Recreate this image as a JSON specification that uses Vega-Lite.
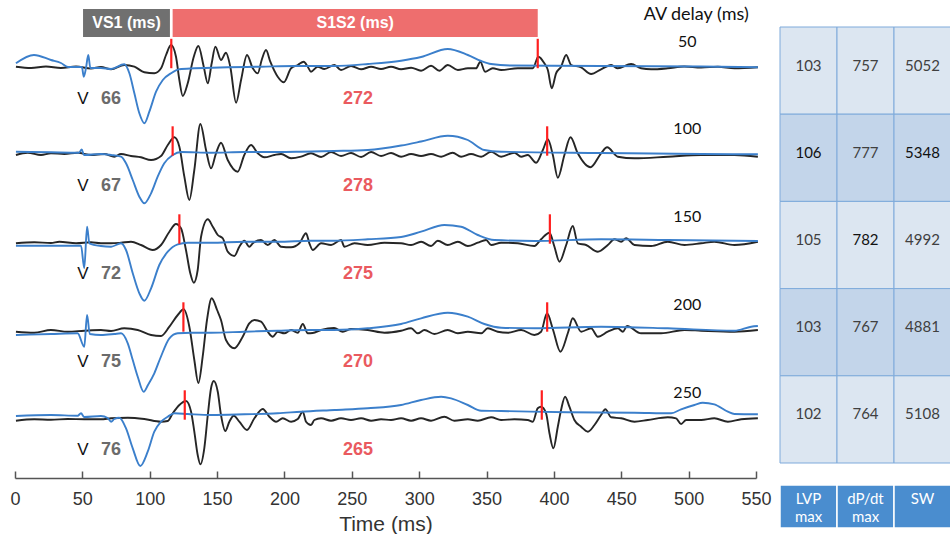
{
  "$schema": "https://vega.github.io/schema/vega-lite/v6.json",
  "background": "white",
  "padding": {"left": 9, "top": 0, "right": 0, "bottom": 0},
  "bounds": "flush",
  "spacing": 24,
  "config": {
    "view": {"stroke": null},
    "font": "Liberation Sans",
    "axisX": {"grid": false, "domainColor": "#555555", "domainWidth": 1.5, "tickColor": "#555555", "tickWidth": 1.5, "tickSize": -7,
      "labelPadding": 19, "labelFont": "Liberation Sans", "labelFontSize": 18, "labelColor": "#333333",
      "labelOverlap": false, "labelFlush": false,
      "titleFont": "Liberation Sans", "titleFontSize": 21, "titleFontWeight": "normal", "titleColor": "#333333", "titlePadding": 5}
  },
  "datasets": {
    "signals": [
      {"d":50,"k":"ECG","t":0.7,"v":414.7},{"d":50,"k":"ECG","t":14.1,"v":423},{"d":50,"k":"ECG","t":26.7,"v":418},{"d":50,"k":"ECG","t":34.1,"v":415},{"d":50,"k":"ECG","t":39.3,"v":411},{"d":50,"k":"ECG","t":49.7,"v":411},{"d":50,"k":"ECG","t":51.0,"v":401.3},{"d":50,"k":"ECG","t":52.7,"v":410},{"d":50,"k":"ECG","t":54.4,"v":423},{"d":50,"k":"ECG","t":55.9,"v":410},{"d":50,"k":"ECG","t":63.8,"v":410},{"d":50,"k":"ECG","t":71.3,"v":409},{"d":50,"k":"ECG","t":81.1,"v":413.7},{"d":50,"k":"ECG","t":84.9,"v":404.7},{"d":50,"k":"ECG","t":88.6,"v":384.7},{"d":50,"k":"ECG","t":92.3,"v":364.7},{"d":50,"k":"ECG","t":96.0,"v":354.7},{"d":50,"k":"ECG","t":99.7,"v":366.3},{"d":50,"k":"ECG","t":104.7,"v":386.3},{"d":50,"k":"ECG","t":109.7,"v":398},{"d":50,"k":"ECG","t":115.8,"v":404.7},{"d":50,"k":"ECG","t":122.0,"v":408.7},{"d":50,"k":"ECG","t":133.1,"v":409.7},{"d":50,"k":"ECG","t":157.9,"v":410.7},{"d":50,"k":"ECG","t":182.6,"v":411.3},{"d":50,"k":"ECG","t":207.4,"v":412},{"d":50,"k":"ECG","t":236.8,"v":412},{"d":50,"k":"ECG","t":262.1,"v":414},{"d":50,"k":"ECG","t":286.6,"v":417.3},{"d":50,"k":"ECG","t":301.4,"v":421},{"d":50,"k":"ECG","t":321.2,"v":429},{"d":50,"k":"ECG","t":336.1,"v":423},{"d":50,"k":"ECG","t":346.0,"v":417},{"d":50,"k":"ECG","t":353.4,"v":414},{"d":50,"k":"ECG","t":368.2,"v":412.5},{"d":50,"k":"ECG","t":435.0,"v":412},{"d":50,"k":"ECG","t":509.3,"v":411.5},{"d":50,"k":"ECG","t":551.4,"v":410.7},

      {"d":50,"k":"PCG","t":0.7,"v":411.3},{"d":50,"k":"PCG","t":11.9,"v":410},{"d":50,"k":"PCG","t":23.0,"v":411.5},{"d":50,"k":"PCG","t":34.1,"v":410},{"d":50,"k":"PCG","t":45.3,"v":411.5},{"d":50,"k":"PCG","t":56.4,"v":409.5},{"d":50,"k":"PCG","t":63.8,"v":411},{"d":50,"k":"PCG","t":71.3,"v":408.7},{"d":50,"k":"PCG","t":81.1,"v":413},{"d":50,"k":"PCG","t":88.6,"v":411.3},{"d":50,"k":"PCG","t":96.0,"v":405.7},{"d":50,"k":"PCG","t":103.4,"v":404.7},{"d":50,"k":"PCG","t":108.4,"v":409.7},{"d":50,"k":"PCG","t":112.1,"v":423},{"d":50,"k":"PCG","t":115.8,"v":433},{"d":50,"k":"PCG","t":119.5,"v":421.3},{"d":50,"k":"PCG","t":122.0,"v":398},{"d":50,"k":"PCG","t":124.5,"v":382},{"d":50,"k":"PCG","t":128.2,"v":394.7},{"d":50,"k":"PCG","t":132.7,"v":421.3},{"d":50,"k":"PCG","t":136.1,"v":432},{"d":50,"k":"PCG","t":140.1,"v":411.3},{"d":50,"k":"PCG","t":143.1,"v":394.7},{"d":50,"k":"PCG","t":146.0,"v":414.7},{"d":50,"k":"PCG","t":148.7,"v":431.3},{"d":50,"k":"PCG","t":152.9,"v":418},{"d":50,"k":"PCG","t":156.6,"v":425.3},{"d":50,"k":"PCG","t":159.8,"v":411.3},{"d":50,"k":"PCG","t":164.1,"v":375.3},{"d":50,"k":"PCG","t":167.8,"v":398},{"d":50,"k":"PCG","t":172.2,"v":423},{"d":50,"k":"PCG","t":176.5,"v":409.7},{"d":50,"k":"PCG","t":180.2,"v":404.7},{"d":50,"k":"PCG","t":183.1,"v":418},{"d":50,"k":"PCG","t":186.3,"v":428},{"d":50,"k":"PCG","t":189.5,"v":416.3},{"d":50,"k":"PCG","t":195.0,"v":401.3},{"d":50,"k":"PCG","t":199.5,"v":395.7},{"d":50,"k":"PCG","t":204.9,"v":409.7},{"d":50,"k":"PCG","t":209.9,"v":413},{"d":50,"k":"PCG","t":214.3,"v":416.3},{"d":50,"k":"PCG","t":217.3,"v":411.3},{"d":50,"k":"PCG","t":219.7,"v":406.3},{"d":50,"k":"PCG","t":224.7,"v":411.3},{"d":50,"k":"PCG","t":229.6,"v":409},{"d":50,"k":"PCG","t":237.1,"v":413},{"d":50,"k":"PCG","t":242.0,"v":408},{"d":50,"k":"PCG","t":249.4,"v":412},{"d":50,"k":"PCG","t":256.9,"v":408.7},{"d":50,"k":"PCG","t":264.3,"v":411.3},{"d":50,"k":"PCG","t":271.7,"v":409},{"d":50,"k":"PCG","t":279.1,"v":411.3},{"d":50,"k":"PCG","t":286.6,"v":408.7},{"d":50,"k":"PCG","t":294.0,"v":410.3},{"d":50,"k":"PCG","t":301.4,"v":407.3},{"d":50,"k":"PCG","t":308.8,"v":412.3},{"d":50,"k":"PCG","t":315.0,"v":407.3},{"d":50,"k":"PCG","t":321.2,"v":413},{"d":50,"k":"PCG","t":328.7,"v":408},{"d":50,"k":"PCG","t":336.1,"v":409.7},{"d":50,"k":"PCG","t":342.2,"v":409.7},{"d":50,"k":"PCG","t":345.4,"v":416.3},{"d":50,"k":"PCG","t":348.9,"v":406.3},{"d":50,"k":"PCG","t":354.6,"v":409.7},{"d":50,"k":"PCG","t":360.8,"v":408},{"d":50,"k":"PCG","t":373.2,"v":409.7},{"d":50,"k":"PCG","t":384.3,"v":409.7},{"d":50,"k":"PCG","t":388.5,"v":421.3},{"d":50,"k":"PCG","t":392.9,"v":414.7},{"d":50,"k":"PCG","t":395.5,"v":408},{"d":50,"k":"PCG","t":398.4,"v":389.7},{"d":50,"k":"PCG","t":401.6,"v":404.7},{"d":50,"k":"PCG","t":405.3,"v":411.3},{"d":50,"k":"PCG","t":409.1,"v":423},{"d":50,"k":"PCG","t":412.8,"v":413},{"d":50,"k":"PCG","t":420.2,"v":410.7},{"d":50,"k":"PCG","t":427.6,"v":404},{"d":50,"k":"PCG","t":435.0,"v":408.7},{"d":50,"k":"PCG","t":442.5,"v":413},{"d":50,"k":"PCG","t":447.4,"v":409.7},{"d":50,"k":"PCG","t":457.3,"v":414},{"d":50,"k":"PCG","t":464.7,"v":409.7},{"d":50,"k":"PCG","t":472.2,"v":408.7},{"d":50,"k":"PCG","t":484.5,"v":409.7},{"d":50,"k":"PCG","t":496.7,"v":411.5},{"d":50,"k":"PCG","t":509.3,"v":410.5},{"d":50,"k":"PCG","t":521.7,"v":411.3},{"d":50,"k":"PCG","t":534.0,"v":409.7},{"d":50,"k":"PCG","t":551.4,"v":410.7},

      {"d":100,"k":"ECG","t":0.7,"v":326.3},{"d":100,"k":"ECG","t":26.7,"v":325.7},{"d":100,"k":"ECG","t":47.5,"v":325.3},{"d":100,"k":"ECG","t":49.5,"v":328.5},{"d":100,"k":"ECG","t":51.2,"v":323},{"d":100,"k":"ECG","t":63.8,"v":324},{"d":100,"k":"ECG","t":71.3,"v":323},{"d":100,"k":"ECG","t":78.7,"v":321.3},{"d":100,"k":"ECG","t":82.4,"v":314.7},{"d":100,"k":"ECG","t":87.4,"v":298},{"d":100,"k":"ECG","t":92.3,"v":281.3},{"d":100,"k":"ECG","t":96.0,"v":274.7},{"d":100,"k":"ECG","t":101.0,"v":284.7},{"d":100,"k":"ECG","t":105.9,"v":301.3},{"d":100,"k":"ECG","t":110.8,"v":314.7},{"d":100,"k":"ECG","t":117.1,"v":323},{"d":100,"k":"ECG","t":123.2,"v":326},{"d":100,"k":"ECG","t":145.5,"v":325.3},{"d":100,"k":"ECG","t":170.2,"v":326},{"d":100,"k":"ECG","t":195.0,"v":326},{"d":100,"k":"ECG","t":212.3,"v":326.3},{"d":100,"k":"ECG","t":236.8,"v":327},{"d":100,"k":"ECG","t":261.8,"v":328},{"d":100,"k":"ECG","t":286.6,"v":332.5},{"d":100,"k":"ECG","t":301.4,"v":336.5},{"d":100,"k":"ECG","t":321.2,"v":342.3},{"d":100,"k":"ECG","t":336.1,"v":338},{"d":100,"k":"ECG","t":348.4,"v":328},{"d":100,"k":"ECG","t":360.8,"v":326.3},{"d":100,"k":"ECG","t":435.0,"v":325},{"d":100,"k":"ECG","t":509.3,"v":324},{"d":100,"k":"ECG","t":551.4,"v":323.7},

      {"d":100,"k":"PCG","t":0.7,"v":323},{"d":100,"k":"PCG","t":9.4,"v":325.3},{"d":100,"k":"PCG","t":19.3,"v":323},{"d":100,"k":"PCG","t":26.7,"v":324.7},{"d":100,"k":"PCG","t":36.6,"v":324},{"d":100,"k":"PCG","t":46.5,"v":325.3},{"d":100,"k":"PCG","t":56.4,"v":323},{"d":100,"k":"PCG","t":66.3,"v":324},{"d":100,"k":"PCG","t":73.7,"v":321.3},{"d":100,"k":"PCG","t":78.7,"v":324},{"d":100,"k":"PCG","t":86.1,"v":322},{"d":100,"k":"PCG","t":93.5,"v":320.7},{"d":100,"k":"PCG","t":101.0,"v":318},{"d":100,"k":"PCG","t":108.4,"v":322},{"d":100,"k":"PCG","t":113.4,"v":333},{"d":100,"k":"PCG","t":118.3,"v":340.7},{"d":100,"k":"PCG","t":122.0,"v":331.3},{"d":100,"k":"PCG","t":125.7,"v":301.3},{"d":100,"k":"PCG","t":129.4,"v":278},{"d":100,"k":"PCG","t":133.1,"v":308},{"d":100,"k":"PCG","t":137.6,"v":354},{"d":100,"k":"PCG","t":141.8,"v":328},{"d":100,"k":"PCG","t":145.5,"v":309.7},{"d":100,"k":"PCG","t":149.2,"v":324.7},{"d":100,"k":"PCG","t":152.9,"v":335.3},{"d":100,"k":"PCG","t":157.9,"v":318},{"d":100,"k":"PCG","t":165.3,"v":306.3},{"d":100,"k":"PCG","t":170.2,"v":323},{"d":100,"k":"PCG","t":175.2,"v":333},{"d":100,"k":"PCG","t":180.2,"v":324.7},{"d":100,"k":"PCG","t":185.1,"v":320.7},{"d":100,"k":"PCG","t":192.5,"v":323},{"d":100,"k":"PCG","t":197.5,"v":324},{"d":100,"k":"PCG","t":204.9,"v":319.7},{"d":100,"k":"PCG","t":212.3,"v":321.3},{"d":100,"k":"PCG","t":219.7,"v":324.7},{"d":100,"k":"PCG","t":227.2,"v":321},{"d":100,"k":"PCG","t":234.6,"v":326},{"d":100,"k":"PCG","t":242.0,"v":322},{"d":100,"k":"PCG","t":249.4,"v":325},{"d":100,"k":"PCG","t":256.9,"v":321},{"d":100,"k":"PCG","t":264.3,"v":326},{"d":100,"k":"PCG","t":271.7,"v":322},{"d":100,"k":"PCG","t":279.1,"v":325},{"d":100,"k":"PCG","t":286.6,"v":321.3},{"d":100,"k":"PCG","t":294.0,"v":324},{"d":100,"k":"PCG","t":301.4,"v":322},{"d":100,"k":"PCG","t":308.8,"v":324},{"d":100,"k":"PCG","t":316.3,"v":321.3},{"d":100,"k":"PCG","t":324.9,"v":325.3},{"d":100,"k":"PCG","t":331.1,"v":321.3},{"d":100,"k":"PCG","t":338.5,"v":324},{"d":100,"k":"PCG","t":346.0,"v":321.3},{"d":100,"k":"PCG","t":353.4,"v":326.3},{"d":100,"k":"PCG","t":360.8,"v":321.3},{"d":100,"k":"PCG","t":370.7,"v":325.3},{"d":100,"k":"PCG","t":375.7,"v":321.3},{"d":100,"k":"PCG","t":380.6,"v":323},{"d":100,"k":"PCG","t":386.8,"v":315.3},{"d":100,"k":"PCG","t":391.8,"v":328},{"d":100,"k":"PCG","t":395.5,"v":338.7},{"d":100,"k":"PCG","t":399.2,"v":323},{"d":100,"k":"PCG","t":402.9,"v":300.3},{"d":100,"k":"PCG","t":407.8,"v":323},{"d":100,"k":"PCG","t":412.3,"v":340.7},{"d":100,"k":"PCG","t":417.7,"v":324.7},{"d":100,"k":"PCG","t":427.1,"v":310.7},{"d":100,"k":"PCG","t":435.0,"v":324.7},{"d":100,"k":"PCG","t":439.5,"v":330.7},{"d":100,"k":"PCG","t":447.4,"v":321.3},{"d":100,"k":"PCG","t":459.8,"v":319.7},{"d":100,"k":"PCG","t":484.5,"v":321.3},{"d":100,"k":"PCG","t":509.3,"v":323},{"d":100,"k":"PCG","t":534.0,"v":323},{"d":100,"k":"PCG","t":551.4,"v":321.3},

      {"d":150,"k":"ECG","t":0.7,"v":232.3},{"d":150,"k":"ECG","t":26.7,"v":232.3},{"d":150,"k":"ECG","t":49.0,"v":232.3},{"d":150,"k":"ECG","t":51.4,"v":209.7},{"d":150,"k":"ECG","t":53.5,"v":251.3},{"d":150,"k":"ECG","t":55.2,"v":234.7},{"d":150,"k":"ECG","t":63.8,"v":232},{"d":150,"k":"ECG","t":71.3,"v":231.3},{"d":150,"k":"ECG","t":78.7,"v":234.7},{"d":150,"k":"ECG","t":82.4,"v":228},{"d":150,"k":"ECG","t":87.4,"v":204.7},{"d":150,"k":"ECG","t":92.3,"v":184.7},{"d":150,"k":"ECG","t":96.0,"v":177.3},{"d":150,"k":"ECG","t":101.0,"v":189.7},{"d":150,"k":"ECG","t":107.1,"v":213},{"d":150,"k":"ECG","t":113.4,"v":226.3},{"d":150,"k":"ECG","t":120.8,"v":233.7},{"d":150,"k":"ECG","t":128.2,"v":235.3},{"d":150,"k":"ECG","t":145.5,"v":235.3},{"d":150,"k":"ECG","t":170.2,"v":236.3},{"d":150,"k":"ECG","t":195.0,"v":236.3},{"d":150,"k":"ECG","t":219.7,"v":237.3},{"d":150,"k":"ECG","t":236.8,"v":237.3},{"d":150,"k":"ECG","t":261.8,"v":238.7},{"d":150,"k":"ECG","t":286.6,"v":241},{"d":150,"k":"ECG","t":301.4,"v":246.3},{"d":150,"k":"ECG","t":318.7,"v":253},{"d":150,"k":"ECG","t":331.1,"v":251.3},{"d":150,"k":"ECG","t":343.5,"v":243},{"d":150,"k":"ECG","t":355.8,"v":238},{"d":150,"k":"ECG","t":385.5,"v":237},{"d":150,"k":"ECG","t":435.0,"v":238.7},{"d":150,"k":"ECG","t":484.5,"v":238},{"d":150,"k":"ECG","t":551.4,"v":237},

      {"d":150,"k":"PCG","t":0.7,"v":234.7},{"d":150,"k":"PCG","t":14.3,"v":235.7},{"d":150,"k":"PCG","t":26.7,"v":235},{"d":150,"k":"PCG","t":32.9,"v":236.3},{"d":150,"k":"PCG","t":45.3,"v":234.7},{"d":150,"k":"PCG","t":56.4,"v":235.7},{"d":150,"k":"PCG","t":63.8,"v":234.7},{"d":150,"k":"PCG","t":71.3,"v":234.7},{"d":150,"k":"PCG","t":78.7,"v":235.3},{"d":150,"k":"PCG","t":86.1,"v":236.3},{"d":150,"k":"PCG","t":93.5,"v":233},{"d":150,"k":"PCG","t":102.2,"v":228},{"d":150,"k":"PCG","t":108.4,"v":233},{"d":150,"k":"PCG","t":114.6,"v":246.3},{"d":150,"k":"PCG","t":119.5,"v":254},{"d":150,"k":"PCG","t":123.2,"v":249.7},{"d":150,"k":"PCG","t":126.9,"v":228},{"d":150,"k":"PCG","t":130.1,"v":204.7},{"d":150,"k":"PCG","t":132.7,"v":195.3},{"d":150,"k":"PCG","t":135.6,"v":208},{"d":150,"k":"PCG","t":138.1,"v":241.3},{"d":150,"k":"PCG","t":143.1,"v":258.7},{"d":150,"k":"PCG","t":146.8,"v":251.3},{"d":150,"k":"PCG","t":150.5,"v":243},{"d":150,"k":"PCG","t":154.2,"v":239.7},{"d":150,"k":"PCG","t":157.9,"v":226.3},{"d":150,"k":"PCG","t":162.8,"v":222},{"d":150,"k":"PCG","t":166.5,"v":231.3},{"d":150,"k":"PCG","t":170.2,"v":237.3},{"d":150,"k":"PCG","t":173.9,"v":231.3},{"d":150,"k":"PCG","t":176.5,"v":234.7},{"d":150,"k":"PCG","t":182.6,"v":238},{"d":150,"k":"PCG","t":187.6,"v":233},{"d":150,"k":"PCG","t":192.5,"v":238},{"d":150,"k":"PCG","t":197.5,"v":231.3},{"d":150,"k":"PCG","t":204.9,"v":230.7},{"d":150,"k":"PCG","t":211.1,"v":234.7},{"d":150,"k":"PCG","t":216.0,"v":244.7},{"d":150,"k":"PCG","t":218.5,"v":234.7},{"d":150,"k":"PCG","t":221.0,"v":228},{"d":150,"k":"PCG","t":227.2,"v":234.7},{"d":150,"k":"PCG","t":234.6,"v":233},{"d":150,"k":"PCG","t":242.0,"v":238},{"d":150,"k":"PCG","t":244.5,"v":231.3},{"d":150,"k":"PCG","t":251.9,"v":234.7},{"d":150,"k":"PCG","t":261.8,"v":233},{"d":150,"k":"PCG","t":274.2,"v":235.3},{"d":150,"k":"PCG","t":286.6,"v":234.7},{"d":150,"k":"PCG","t":294.0,"v":233},{"d":150,"k":"PCG","t":301.4,"v":236.3},{"d":150,"k":"PCG","t":308.8,"v":232},{"d":150,"k":"PCG","t":313.8,"v":237.3},{"d":150,"k":"PCG","t":321.2,"v":233},{"d":150,"k":"PCG","t":328.7,"v":236.3},{"d":150,"k":"PCG","t":336.1,"v":232},{"d":150,"k":"PCG","t":343.5,"v":235.3},{"d":150,"k":"PCG","t":349.7,"v":238},{"d":150,"k":"PCG","t":353.4,"v":233},{"d":150,"k":"PCG","t":360.8,"v":235.3},{"d":150,"k":"PCG","t":373.2,"v":234.7},{"d":150,"k":"PCG","t":385.5,"v":232},{"d":150,"k":"PCG","t":390.5,"v":238.7},{"d":150,"k":"PCG","t":396.7,"v":245.3},{"d":150,"k":"PCG","t":400.4,"v":231.3},{"d":150,"k":"PCG","t":404.1,"v":216.3},{"d":150,"k":"PCG","t":409.1,"v":233},{"d":150,"k":"PCG","t":414.0,"v":252},{"d":150,"k":"PCG","t":417.7,"v":234.7},{"d":150,"k":"PCG","t":423.9,"v":233},{"d":150,"k":"PCG","t":432.6,"v":226.3},{"d":150,"k":"PCG","t":440.0,"v":233},{"d":150,"k":"PCG","t":444.9,"v":238.7},{"d":150,"k":"PCG","t":449.9,"v":236.3},{"d":150,"k":"PCG","t":453.6,"v":239.7},{"d":150,"k":"PCG","t":459.8,"v":233},{"d":150,"k":"PCG","t":472.2,"v":232},{"d":150,"k":"PCG","t":484.5,"v":236.3},{"d":150,"k":"PCG","t":496.9,"v":233},{"d":150,"k":"PCG","t":509.3,"v":234.7},{"d":150,"k":"PCG","t":519.1,"v":236.3},{"d":150,"k":"PCG","t":534.0,"v":233},{"d":150,"k":"PCG","t":551.4,"v":236.3},

      {"d":200,"k":"ECG","t":0.7,"v":143},{"d":200,"k":"ECG","t":26.7,"v":144},{"d":200,"k":"ECG","t":46.5,"v":144.7},{"d":200,"k":"ECG","t":51.4,"v":131.3},{"d":200,"k":"ECG","t":53.5,"v":163},{"d":200,"k":"ECG","t":55.5,"v":144},{"d":200,"k":"ECG","t":63.8,"v":143},{"d":200,"k":"ECG","t":73.7,"v":144},{"d":200,"k":"ECG","t":78.7,"v":144.7},{"d":200,"k":"ECG","t":83.7,"v":134.7},{"d":200,"k":"ECG","t":87.4,"v":118},{"d":200,"k":"ECG","t":91.1,"v":101.3},{"d":200,"k":"ECG","t":95.5,"v":86.3},{"d":200,"k":"ECG","t":98.7,"v":93},{"d":200,"k":"ECG","t":103.4,"v":104.7},{"d":200,"k":"ECG","t":107.9,"v":120},{"d":200,"k":"ECG","t":114.6,"v":139.7},{"d":200,"k":"ECG","t":120.8,"v":144.7},{"d":200,"k":"ECG","t":130.7,"v":145.3},{"d":200,"k":"ECG","t":145.5,"v":145.3},{"d":200,"k":"ECG","t":170.2,"v":146.3},{"d":200,"k":"ECG","t":195.0,"v":147.3},{"d":200,"k":"ECG","t":219.7,"v":148},{"d":200,"k":"ECG","t":236.8,"v":148},{"d":200,"k":"ECG","t":261.8,"v":149.7},{"d":200,"k":"ECG","t":286.6,"v":154},{"d":200,"k":"ECG","t":301.4,"v":159.7},{"d":200,"k":"ECG","t":321.2,"v":165.3},{"d":200,"k":"ECG","t":336.1,"v":161.3},{"d":200,"k":"ECG","t":348.4,"v":154},{"d":200,"k":"ECG","t":360.8,"v":150.3},{"d":200,"k":"ECG","t":385.5,"v":149.7},{"d":200,"k":"ECG","t":435.0,"v":151.3},{"d":200,"k":"ECG","t":484.5,"v":149.7},{"d":200,"k":"ECG","t":534.0,"v":147.3},{"d":200,"k":"ECG","t":546.4,"v":151.3},{"d":200,"k":"ECG","t":551.4,"v":152},

      {"d":200,"k":"PCG","t":0.7,"v":146.3},{"d":200,"k":"PCG","t":14.3,"v":145.3},{"d":200,"k":"PCG","t":26.7,"v":148},{"d":200,"k":"PCG","t":39.1,"v":146.3},{"d":200,"k":"PCG","t":51.4,"v":147.3},{"d":200,"k":"PCG","t":63.8,"v":148},{"d":200,"k":"PCG","t":71.3,"v":147},{"d":200,"k":"PCG","t":81.1,"v":149.7},{"d":200,"k":"PCG","t":91.1,"v":148},{"d":200,"k":"PCG","t":101.0,"v":143},{"d":200,"k":"PCG","t":108.4,"v":142},{"d":200,"k":"PCG","t":114.6,"v":151.3},{"d":200,"k":"PCG","t":120.8,"v":163},{"d":200,"k":"PCG","t":125.2,"v":168.7},{"d":200,"k":"PCG","t":129.4,"v":151.3},{"d":200,"k":"PCG","t":133.1,"v":118},{"d":200,"k":"PCG","t":136.1,"v":95},{"d":200,"k":"PCG","t":139.3,"v":121.3},{"d":200,"k":"PCG","t":142.5,"v":158},{"d":200,"k":"PCG","t":146.0,"v":179.7},{"d":200,"k":"PCG","t":150.0,"v":168},{"d":200,"k":"PCG","t":152.9,"v":158},{"d":200,"k":"PCG","t":156.6,"v":138},{"d":200,"k":"PCG","t":162.8,"v":129.7},{"d":200,"k":"PCG","t":169.0,"v":141.3},{"d":200,"k":"PCG","t":173.9,"v":154.7},{"d":200,"k":"PCG","t":177.7,"v":158},{"d":200,"k":"PCG","t":182.6,"v":156.3},{"d":200,"k":"PCG","t":187.6,"v":146.3},{"d":200,"k":"PCG","t":191.3,"v":141.3},{"d":200,"k":"PCG","t":195.0,"v":146.3},{"d":200,"k":"PCG","t":199.9,"v":144.7},{"d":200,"k":"PCG","t":204.9,"v":148},{"d":200,"k":"PCG","t":209.9,"v":145.3},{"d":200,"k":"PCG","t":213.6,"v":154},{"d":200,"k":"PCG","t":217.3,"v":144.7},{"d":200,"k":"PCG","t":221.0,"v":145},{"d":200,"k":"PCG","t":227.2,"v":148},{"d":200,"k":"PCG","t":236.8,"v":150},{"d":200,"k":"PCG","t":243.3,"v":146.3},{"d":200,"k":"PCG","t":249.4,"v":149},{"d":200,"k":"PCG","t":261.8,"v":148},{"d":200,"k":"PCG","t":274.2,"v":145.3},{"d":200,"k":"PCG","t":286.6,"v":147.3},{"d":200,"k":"PCG","t":294.0,"v":149.7},{"d":200,"k":"PCG","t":299.0,"v":144.7},{"d":200,"k":"PCG","t":303.9,"v":148},{"d":200,"k":"PCG","t":311.3,"v":144},{"d":200,"k":"PCG","t":321.2,"v":148},{"d":200,"k":"PCG","t":328.7,"v":144.7},{"d":200,"k":"PCG","t":336.1,"v":146.3},{"d":200,"k":"PCG","t":346.0,"v":144.7},{"d":200,"k":"PCG","t":350.9,"v":149.7},{"d":200,"k":"PCG","t":358.3,"v":146.3},{"d":200,"k":"PCG","t":365.8,"v":145.3},{"d":200,"k":"PCG","t":375.7,"v":148},{"d":200,"k":"PCG","t":385.5,"v":143},{"d":200,"k":"PCG","t":390.5,"v":146.3},{"d":200,"k":"PCG","t":394.9,"v":164.7},{"d":200,"k":"PCG","t":399.4,"v":148},{"d":200,"k":"PCG","t":404.8,"v":126.3},{"d":200,"k":"PCG","t":410.3,"v":144.7},{"d":200,"k":"PCG","t":414.0,"v":159.7},{"d":200,"k":"PCG","t":420.2,"v":146.3},{"d":200,"k":"PCG","t":427.6,"v":149.7},{"d":200,"k":"PCG","t":432.6,"v":141.3},{"d":200,"k":"PCG","t":440.0,"v":146.3},{"d":200,"k":"PCG","t":447.4,"v":149.7},{"d":200,"k":"PCG","t":451.2,"v":146.3},{"d":200,"k":"PCG","t":454.3,"v":152},{"d":200,"k":"PCG","t":464.7,"v":144.7},{"d":200,"k":"PCG","t":479.6,"v":144.7},{"d":200,"k":"PCG","t":496.9,"v":148},{"d":200,"k":"PCG","t":509.3,"v":147.3},{"d":200,"k":"PCG","t":534.0,"v":146.3},{"d":200,"k":"PCG","t":551.4,"v":148},

      {"d":250,"k":"ECG","t":0.7,"v":62},{"d":250,"k":"ECG","t":26.7,"v":63},{"d":250,"k":"ECG","t":46.5,"v":62.3},{"d":250,"k":"ECG","t":49.0,"v":64.7},{"d":250,"k":"ECG","t":51.4,"v":61},{"d":250,"k":"ECG","t":63.8,"v":62},{"d":250,"k":"ECG","t":68.8,"v":60},{"d":250,"k":"ECG","t":71.3,"v":56.3},{"d":250,"k":"ECG","t":73.7,"v":59},{"d":250,"k":"ECG","t":77.4,"v":60.3},{"d":250,"k":"ECG","t":82.4,"v":49.7},{"d":250,"k":"ECG","t":87.4,"v":29.7},{"d":250,"k":"ECG","t":93.0,"v":12},{"d":250,"k":"ECG","t":98.5,"v":26.3},{"d":250,"k":"ECG","t":103.4,"v":46.3},{"d":250,"k":"ECG","t":108.4,"v":56.3},{"d":250,"k":"ECG","t":113.4,"v":61.3},{"d":250,"k":"ECG","t":118.3,"v":64.7},{"d":250,"k":"ECG","t":128.2,"v":64},{"d":250,"k":"ECG","t":145.5,"v":63},{"d":250,"k":"ECG","t":170.2,"v":63.7},{"d":250,"k":"ECG","t":195.0,"v":64.7},{"d":250,"k":"ECG","t":212.3,"v":66.3},{"d":250,"k":"ECG","t":237.1,"v":68},{"d":250,"k":"ECG","t":261.8,"v":69.7},{"d":250,"k":"ECG","t":286.6,"v":73},{"d":250,"k":"ECG","t":301.4,"v":78},{"d":250,"k":"ECG","t":316.3,"v":81.3},{"d":250,"k":"ECG","t":323.7,"v":79.7},{"d":250,"k":"ECG","t":336.1,"v":73},{"d":250,"k":"ECG","t":346.0,"v":67.3},{"d":250,"k":"ECG","t":360.8,"v":67},{"d":250,"k":"ECG","t":410.3,"v":65.7},{"d":250,"k":"ECG","t":459.8,"v":65.3},{"d":250,"k":"ECG","t":487.0,"v":64.7},{"d":250,"k":"ECG","t":494.4,"v":68.7},{"d":250,"k":"ECG","t":504.3,"v":73},{"d":250,"k":"ECG","t":510.5,"v":75.3},{"d":250,"k":"ECG","t":519.1,"v":73.7},{"d":250,"k":"ECG","t":529.1,"v":66.3},{"d":250,"k":"ECG","t":534.0,"v":64},{"d":250,"k":"ECG","t":551.4,"v":63.7},

      {"d":250,"k":"PCG","t":0.7,"v":57.3},{"d":250,"k":"PCG","t":14.3,"v":58.7},{"d":250,"k":"PCG","t":26.7,"v":58.3},{"d":250,"k":"PCG","t":39.1,"v":59},{"d":250,"k":"PCG","t":51.4,"v":58.7},{"d":250,"k":"PCG","t":63.8,"v":58.7},{"d":250,"k":"PCG","t":71.3,"v":59.7},{"d":250,"k":"PCG","t":83.7,"v":60.3},{"d":250,"k":"PCG","t":96.0,"v":59},{"d":250,"k":"PCG","t":108.4,"v":56.3},{"d":250,"k":"PCG","t":113.4,"v":57},{"d":250,"k":"PCG","t":117.1,"v":64.7},{"d":250,"k":"PCG","t":122.0,"v":73},{"d":250,"k":"PCG","t":126.9,"v":77},{"d":250,"k":"PCG","t":130.7,"v":66.3},{"d":250,"k":"PCG","t":133.1,"v":46.3},{"d":250,"k":"PCG","t":135.6,"v":23},{"d":250,"k":"PCG","t":137.6,"v":13.7},{"d":250,"k":"PCG","t":140.5,"v":29.7},{"d":250,"k":"PCG","t":143.1,"v":63},{"d":250,"k":"PCG","t":145.5,"v":89.7},{"d":250,"k":"PCG","t":147.5,"v":97},{"d":250,"k":"PCG","t":150.5,"v":86.3},{"d":250,"k":"PCG","t":152.9,"v":63},{"d":250,"k":"PCG","t":156.1,"v":47},{"d":250,"k":"PCG","t":159.1,"v":56.3},{"d":250,"k":"PCG","t":162.4,"v":62.3},{"d":250,"k":"PCG","t":166.5,"v":56.3},{"d":250,"k":"PCG","t":172.2,"v":48},{"d":250,"k":"PCG","t":177.7,"v":59.7},{"d":250,"k":"PCG","t":183.9,"v":69},{"d":250,"k":"PCG","t":188.8,"v":61.3},{"d":250,"k":"PCG","t":193.8,"v":56.3},{"d":250,"k":"PCG","t":198.7,"v":59.7},{"d":250,"k":"PCG","t":204.9,"v":56.3},{"d":250,"k":"PCG","t":209.9,"v":59},{"d":250,"k":"PCG","t":213.6,"v":66.3},{"d":250,"k":"PCG","t":216.0,"v":56.3},{"d":250,"k":"PCG","t":219.7,"v":53},{"d":250,"k":"PCG","t":222.2,"v":58},{"d":250,"k":"PCG","t":227.2,"v":59.7},{"d":250,"k":"PCG","t":234.6,"v":57.3},{"d":250,"k":"PCG","t":242.0,"v":59.7},{"d":250,"k":"PCG","t":249.4,"v":58},{"d":250,"k":"PCG","t":256.9,"v":59.7},{"d":250,"k":"PCG","t":264.3,"v":57.3},{"d":250,"k":"PCG","t":271.7,"v":58.7},{"d":250,"k":"PCG","t":279.1,"v":58},{"d":250,"k":"PCG","t":286.6,"v":59.7},{"d":250,"k":"PCG","t":294.0,"v":57.3},{"d":250,"k":"PCG","t":301.4,"v":59.7},{"d":250,"k":"PCG","t":308.8,"v":57.3},{"d":250,"k":"PCG","t":318.7,"v":61.3},{"d":250,"k":"PCG","t":326.1,"v":57.3},{"d":250,"k":"PCG","t":336.1,"v":58.7},{"d":250,"k":"PCG","t":343.5,"v":57.3},{"d":250,"k":"PCG","t":353.4,"v":60.7},{"d":250,"k":"PCG","t":360.8,"v":58},{"d":250,"k":"PCG","t":370.7,"v":58.7},{"d":250,"k":"PCG","t":380.6,"v":58},{"d":250,"k":"PCG","t":384.3,"v":56.3},{"d":250,"k":"PCG","t":388.0,"v":69.7},{"d":250,"k":"PCG","t":390.5,"v":71.3},{"d":250,"k":"PCG","t":394.2,"v":64.7},{"d":250,"k":"PCG","t":396.7,"v":44.7},{"d":250,"k":"PCG","t":399.6,"v":29.7},{"d":250,"k":"PCG","t":402.9,"v":51.3},{"d":250,"k":"PCG","t":405.3,"v":68},{"d":250,"k":"PCG","t":408.3,"v":81.3},{"d":250,"k":"PCG","t":411.5,"v":71.3},{"d":250,"k":"PCG","t":415.2,"v":58},{"d":250,"k":"PCG","t":420.2,"v":51.3},{"d":250,"k":"PCG","t":425.2,"v":46.3},{"d":250,"k":"PCG","t":430.1,"v":53},{"d":250,"k":"PCG","t":435.0,"v":63},{"d":250,"k":"PCG","t":438.2,"v":68.7},{"d":250,"k":"PCG","t":442.5,"v":60.7},{"d":250,"k":"PCG","t":449.9,"v":59.7},{"d":250,"k":"PCG","t":459.8,"v":56.3},{"d":250,"k":"PCG","t":469.7,"v":58},{"d":250,"k":"PCG","t":484.5,"v":60.7},{"d":250,"k":"PCG","t":490.7,"v":59.7},{"d":250,"k":"PCG","t":494.4,"v":54},{"d":250,"k":"PCG","t":498.1,"v":58},{"d":250,"k":"PCG","t":509.3,"v":58},{"d":250,"k":"PCG","t":519.1,"v":59.7},{"d":250,"k":"PCG","t":529.1,"v":56.3},{"d":250,"k":"PCG","t":539.0,"v":58.7},{"d":250,"k":"PCG","t":551.4,"v":59.7}
    ],
    "events": [
      {"d": 50, "base": 410.5, "vs1": 66, "s1s2": 272, "s1": 116, "s2": 388},
      {"d": 100, "base": 323, "vs1": 67, "s1s2": 278, "s1": 117, "s2": 395},
      {"d": 150, "base": 235, "vs1": 72, "s1s2": 275, "s1": 122, "s2": 397},
      {"d": 200, "base": 147, "vs1": 75, "s1s2": 270, "s1": 125, "s2": 395},
      {"d": 250, "base": 59, "vs1": 76, "s1s2": 265, "s1": 126, "s2": 391}
    ],
    "intervals": [
      {"name": "VS1 (ms)", "start": 50.5, "end": 115},
      {"name": "S1S2 (ms)", "start": 117, "end": 388}
    ],
    "hemo": [
      {"d": 50, "col": "LVP max", "val": 103}, {"d": 50, "col": "dP/dt max", "val": 757}, {"d": 50, "col": "SW", "val": 5052},
      {"d": 100, "col": "LVP max", "val": 106}, {"d": 100, "col": "dP/dt max", "val": 777}, {"d": 100, "col": "SW", "val": 5348},
      {"d": 150, "col": "LVP max", "val": 105}, {"d": 150, "col": "dP/dt max", "val": 782}, {"d": 150, "col": "SW", "val": 4992},
      {"d": 200, "col": "LVP max", "val": 103}, {"d": 200, "col": "dP/dt max", "val": 767}, {"d": 200, "col": "SW", "val": 4881},
      {"d": 250, "col": "LVP max", "val": 102}, {"d": 250, "col": "dP/dt max", "val": 764}, {"d": 250, "col": "SW", "val": 5108}
    ],
    "columns": [{"col": "LVP max"}, {"col": "dP/dt max"}, {"col": "SW"}]
  },
  "hconcat": [
    {
      "width": 741,
      "height": 478,
      "layer": [
        {
          "data": {"name": "signals"},
          "transform": [{"filter": "datum.k == 'PCG'"}],
          "mark": {"type": "line", "color": "#262626", "strokeWidth": 1.9, "interpolate": "monotone"},
          "encoding": {
            "x": {"field": "t", "type": "quantitative", "title": "Time (ms)", "scale": {"domain": [0, 550], "nice": false, "zero": false},
              "axis": {"values": [0, 50, 100, 150, 200, 250, 300, 350, 400, 450, 500, 550]}},
            "y": {"field": "v", "type": "quantitative", "scale": {"domain": [0, 478], "nice": false, "zero": false}, "axis": null},
            "detail": {"field": "d"}
          }
        },
        {
          "data": {"name": "signals"},
          "transform": [{"filter": "datum.k == 'ECG'"}],
          "mark": {"type": "line", "color": "#3b7fcb", "strokeWidth": 1.9, "interpolate": "monotone"},
          "encoding": {
            "x": {"field": "t", "type": "quantitative", "scale": {"domain": [0, 550], "nice": false, "zero": false}},
            "y": {"field": "v", "type": "quantitative", "scale": {"domain": [0, 478], "nice": false, "zero": false}, "axis": null},
            "detail": {"field": "d"}
          }
        },
        {
          "data": {"name": "events"},
          "mark": {"type": "rule", "color": "#ff1f1f", "strokeWidth": 2.2, "yOffset": -28.7, "y2Offset": 0.7},
          "encoding": {
            "x": {"field": "s1", "type": "quantitative", "scale": {"domain": [0, 550], "nice": false, "zero": false}},
            "y": {"field": "base", "type": "quantitative", "scale": {"domain": [0, 478], "nice": false, "zero": false}, "axis": null},
            "y2": {"field": "base"}
          }
        },
        {
          "data": {"name": "events"},
          "mark": {"type": "rule", "color": "#ff1f1f", "strokeWidth": 2.2, "yOffset": -28.7, "y2Offset": 0.7},
          "encoding": {
            "x": {"field": "s2", "type": "quantitative", "scale": {"domain": [0, 550], "nice": false, "zero": false}},
            "y": {"field": "base", "type": "quantitative", "scale": {"domain": [0, 478], "nice": false, "zero": false}, "axis": null},
            "y2": {"field": "base"}
          }
        },
        {
          "data": {"name": "events"},
          "mark": {"type": "text", "text": "V", "font": "Liberation Sans", "fontSize": 17, "color": "#111111", "dy": 31},
          "encoding": {
            "x": {"datum": 50.4, "type": "quantitative", "scale": {"domain": [0, 550], "nice": false, "zero": false}},
            "y": {"field": "base", "type": "quantitative", "scale": {"domain": [0, 478], "nice": false, "zero": false}, "axis": null}
          }
        },
        {
          "data": {"name": "events"},
          "mark": {"type": "text", "font": "Liberation Sans", "fontSize": 18, "fontWeight": "bold", "color": "#6b6b6b", "dy": 31},
          "encoding": {
            "x": {"datum": 71.3, "type": "quantitative", "scale": {"domain": [0, 550], "nice": false, "zero": false}},
            "y": {"field": "base", "type": "quantitative", "scale": {"domain": [0, 478], "nice": false, "zero": false}, "axis": null},
            "text": {"field": "vs1", "type": "nominal"}
          }
        },
        {
          "data": {"name": "events"},
          "mark": {"type": "text", "font": "Liberation Sans", "fontSize": 18, "fontWeight": "bold", "color": "#ea5a5f", "dy": 31},
          "encoding": {
            "x": {"datum": 254.6, "type": "quantitative", "scale": {"domain": [0, 550], "nice": false, "zero": false}},
            "y": {"field": "base", "type": "quantitative", "scale": {"domain": [0, 478], "nice": false, "zero": false}, "axis": null},
            "text": {"field": "s1s2", "type": "nominal"}
          }
        },
        {
          "data": {"name": "events"},
          "mark": {"type": "text", "font": "Lato", "fontSize": 16, "color": "#111111", "dy": -26},
          "encoding": {
            "x": {"datum": 499, "type": "quantitative", "scale": {"domain": [0, 550], "nice": false, "zero": false}},
            "y": {"field": "base", "type": "quantitative", "scale": {"domain": [0, 478], "nice": false, "zero": false}, "axis": null},
            "text": {"field": "d", "type": "nominal"}
          }
        },
        {
          "data": {"name": "intervals"},
          "mark": {"type": "rect"},
          "encoding": {
            "x": {"field": "start", "type": "quantitative", "scale": {"domain": [0, 550], "nice": false, "zero": false}},
            "x2": {"field": "end"},
            "y": {"datum": 441, "type": "quantitative", "scale": {"domain": [0, 478], "nice": false, "zero": false}, "axis": null},
            "y2": {"datum": 469},
            "color": {"field": "name", "type": "nominal", "scale": {"domain": ["VS1 (ms)", "S1S2 (ms)"], "range": ["#707070", "#ee6e6e"]}, "legend": null}
          }
        },
        {
          "data": {"name": "intervals"},
          "transform": [{"calculate": "(datum.start + datum.end) / 2", "as": "mid"}],
          "mark": {"type": "text", "font": "Liberation Sans", "fontSize": 16, "fontWeight": "bold", "color": "white"},
          "encoding": {
            "x": {"field": "mid", "type": "quantitative", "scale": {"domain": [0, 550], "nice": false, "zero": false}},
            "y": {"datum": 455, "type": "quantitative", "scale": {"domain": [0, 478], "nice": false, "zero": false}, "axis": null},
            "text": {"field": "name", "type": "nominal"}
          }
        },
        {
          "data": {"values": [{"label": "AV delay (ms)"}]},
          "mark": {"type": "text", "font": "Lato", "fontSize": 18, "color": "#111111"},
          "encoding": {
            "x": {"datum": 505.6, "type": "quantitative", "scale": {"domain": [0, 550], "nice": false, "zero": false}},
            "y": {"datum": 463, "type": "quantitative", "scale": {"domain": [0, 478], "nice": false, "zero": false}, "axis": null},
            "text": {"field": "label", "type": "nominal"}
          }
        }
      ]
    },
    {
      "bounds": "flush",
      "spacing": 22,
      "vconcat": [
        {
          "width": 171,
          "height": 463,
          "data": {"name": "hemo"},
          "transform": [{"joinaggregate": [{"op": "max", "field": "val", "as": "colMax"}], "groupby": ["col"]}],
          "encoding": {
            "x": {"field": "col", "type": "nominal", "sort": ["LVP max", "dP/dt max", "SW"], "scale": {"paddingInner": 0, "paddingOuter": 0}, "axis": null},
            "y": {"field": "d", "type": "ordinal", "scale": {"range": [27, 463], "paddingInner": 0, "paddingOuter": 0}, "axis": null}
          },
          "layer": [
            {
              "mark": {"type": "rect", "stroke": "#7eaadb", "strokeWidth": 1},
              "encoding": {
                "fill": {"condition": {"test": "datum.d == 100 || datum.d == 200", "value": "#c3d5ea"}, "value": "#dce6f1"}
              }
            },
            {
              "mark": {"type": "text", "font": "Lato", "fontSize": 15, "dy": -5},
              "encoding": {
                "text": {"field": "val", "type": "nominal"},
                "fontWeight": {"condition": {"test": "datum.val == datum.colMax", "value": "bold"}, "value": "normal"},
                "color": {"condition": {"test": "datum.val == datum.colMax", "value": "#111111"}, "value": "#404040"}
              }
            }
          ]
        },
        {
          "width": 171,
          "height": 43,
          "data": {"name": "columns"},
          "encoding": {
            "x": {"field": "col", "type": "nominal", "sort": ["LVP max", "dP/dt max", "SW"], "scale": {"paddingInner": 0, "paddingOuter": 0}, "axis": null}
          },
          "layer": [
            {"mark": {"type": "rect", "fill": "#4a8dcf", "stroke": "white", "strokeWidth": 1.5}},
            {
              "mark": {"type": "text", "font": "Lato", "fontSize": 15, "color": "white", "lineBreak": " ", "lineHeight": 18, "baseline": "top", "dy": -15},
              "encoding": {"text": {"field": "col", "type": "nominal"}}
            }
          ]
        }
      ]
    }
  ]
}
